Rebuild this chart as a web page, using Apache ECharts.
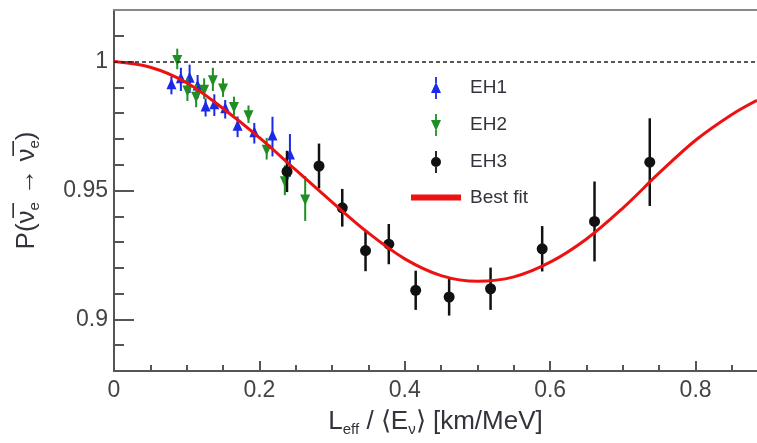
<!DOCTYPE html>
<html>
<head>
<meta charset="utf-8">
<script src="https://cdn.jsdelivr.net/npm/echarts@6/dist/echarts.min.js"></script>
<style>
  html, body { margin: 0; padding: 0; background: #fff; }
  #chart { width: 757px; height: 443px; }
</style>
</head>
<body>
<div id="chart"></div>
<script>
// axis ranges and ticks
const xMax = 0.8845
const yMin = 0.88
const yMax = 1.02
const xMajor = [0, 0.2, 0.4, 0.6, 0.8]
const xMinor = [0.05, 0.1, 0.15, 0.25, 0.3, 0.35, 0.45, 0.5, 0.55, 0.65, 0.7, 0.75, 0.85]
const yMajor = [0.9, 0.95, 1]
const yMinor = [0.89, 0.91, 0.92, 0.93, 0.94, 0.96, 0.97, 0.98, 0.99, 1.01]

// [L/E, P, error]
const eh1 = [
    [0.079, 0.9908, 0.0035], [0.092, 0.9931, 0.0045], [0.104, 0.9933, 0.0055],
    [0.115, 0.9903, 0.0045], [0.126, 0.9822, 0.0035], [0.138, 0.9831, 0.0042],
    [0.153, 0.9815, 0.0036], [0.170, 0.9747, 0.0040], [0.193, 0.9722, 0.0040],
    [0.218, 0.9709, 0.0077], [0.242, 0.9636, 0.0083]
]
const eh2 = [
    [0.087, 1.0010, 0.0040], [0.101, 0.9892, 0.0045], [0.113, 0.9867, 0.0044],
    [0.124, 0.9895, 0.0040], [0.136, 0.9931, 0.0045], [0.150, 0.9899, 0.0036],
    [0.165, 0.9828, 0.0036], [0.185, 0.9796, 0.0034], [0.210, 0.9662, 0.0042],
    [0.235, 0.9540, 0.0058], [0.263, 0.9469, 0.0087]
]
const eh3 = [
    [0.238, 0.9574, 0.0080], [0.282, 0.9595, 0.0087], [0.314, 0.9433, 0.0073],
    [0.346, 0.9267, 0.0080], [0.378, 0.9292, 0.0078], [0.415, 0.9113, 0.0076],
    [0.461, 0.9087, 0.0072], [0.518, 0.9119, 0.0082], [0.589, 0.9274, 0.0088],
    [0.661, 0.9380, 0.0155], [0.737, 0.9610, 0.0170]
]
// best fit curve
const fitX = [0, 0.05, 0.1, 0.15, 0.2, 0.25, 0.3, 0.35, 0.4, 0.45, 0.5, 0.55, 0.6, 0.65, 0.7, 0.75, 0.8, 0.85, 0.8845]
const fitY = [1.0, 0.9978, 0.9918, 0.9818, 0.9705, 0.958, 0.9455, 0.9335, 0.9235, 0.917, 0.9148, 0.9165, 0.9222, 0.9312, 0.9432, 0.9568, 0.9695, 0.9795, 0.985]

const font = 'Liberation Sans, Arial, sans-serif'
const axisColor = '#555'
const textColor = '#33333d'

// 误差棒 + 标记
function errorBar(shape){
    return function(params, api){
        let x = api.value(0), y = api.value(1), e = api.value(2)
        let top = api.coord([x, y + e])
        let bot = api.coord([x, y - e])
        let c = api.coord([x, y])
        let color = api.visual('color')
        let children = [{
            type: 'line',
            shape: { x1: c[0], y1: top[1], x2: c[0], y2: bot[1] },
            style: { stroke: color, lineWidth: shape === 'circle' ? 2.5 : 2 }
        }]
        if(shape === 'up')
            children.push({ type: 'polygon', shape: { points: [[c[0], c[1] - 7], [c[0] + 5, c[1] + 4], [c[0] - 5, c[1] + 4]] }, style: { fill: color } })
        else if(shape === 'down')
            children.push({ type: 'polygon', shape: { points: [[c[0], c[1] + 7], [c[0] + 5, c[1] - 4], [c[0] - 5, c[1] - 4]] }, style: { fill: color } })
        else
            children.push({ type: 'circle', shape: { cx: c[0], cy: c[1], r: 5.5 }, style: { fill: color } })
        return { type: 'group', children: children }
    }
}

const sub = { fontSize: 15, fontFamily: font, color: textColor, verticalAlign: 'bottom', lineHeight: 30, padding: [8, 0, 0, 0] }

const gridRect = { left: 114, right: 0, top: 10, bottom: 72, outerBoundsMode: 'none' }

// legend icons: bar pieces above/below the marker so nothing overlaps
const barPieces = 'M4.1 0h1.8v6h-1.8z M4.1 16h1.8v6h-1.8z '

let option = {
    animation: false,
    backgroundColor: '#fff',
    grid: [Object.assign({}, gridRect), Object.assign({}, gridRect)],
    legend: {
        orient: 'vertical',
        left: 406,
        top: 72,
        itemWidth: 50,
        itemHeight: 22,
        itemGap: 15,
        textStyle: { fontSize: 19, fontFamily: font, color: textColor, padding: [0, 0, 0, 4] },
        data: [
            { name: 'EH1', icon: 'path://' + barPieces + 'M0 16 L5 5 L10 16z' },
            { name: 'EH2', icon: 'path://' + barPieces + 'M0 6 L10 6 L5 17z' },
            { name: 'EH3', icon: 'path://' + barPieces + 'M0 11 a5 5 0 1 1 10 0 a5 5 0 1 1 -10 0z' },
            { name: 'Best fit', icon: 'path://M0 0h50v6h-50z' }
        ]
    },
    xAxis: [
        {
            gridIndex: 0, type: 'value', min: 0, max: xMax, position: 'bottom',
            name: 'L{sub|eff} / ⟨E{sub|ν}⟩ [km/MeV]',
            nameLocation: 'middle', nameGap: 28,
            nameTextStyle: { fontSize: 26, fontFamily: font, color: textColor, lineHeight: 30, rich: { sub: sub } },
            axisLine: { show: true, lineStyle: { color: axisColor, width: 2 } },
            axisTick: { show: true, inside: true, length: 10, customValues: xMajor, lineStyle: { color: axisColor, width: 2 } },
            axisLabel: { customValues: xMajor, fontSize: 23, fontFamily: font, color: '#444', margin: 8 },
            splitLine: { show: false }
        },
        {
            gridIndex: 1, type: 'value', min: 0, max: xMax, position: 'bottom',
            axisLine: { show: false },
            axisTick: { show: true, inside: true, length: 6, customValues: xMinor, lineStyle: { color: axisColor, width: 2 } },
            axisLabel: { show: false },
            splitLine: { show: false }
        },
        {
            gridIndex: 1, type: 'value', min: 0, max: xMax, position: 'top',
            axisLine: { show: true, lineStyle: { color: '#888', width: 2 } },
            axisTick: { show: false },
            axisLabel: { show: false },
            splitLine: { show: false }
        }
    ],
    yAxis: [
        {
            gridIndex: 0, type: 'value', min: yMin, max: yMax, position: 'left',
            name: 'P(ν̅{sub|e} → ν̅{sub|e})',
            nameLocation: 'middle', nameRotate: 90, nameGap: 72,
            nameTextStyle: { fontSize: 26, fontFamily: font, color: textColor, lineHeight: 30, rich: { sub: sub } },
            axisLine: { show: true, lineStyle: { color: axisColor, width: 2 } },
            axisTick: { show: true, inside: true, length: 20, customValues: yMajor, lineStyle: { color: axisColor, width: 2 } },
            axisLabel: { customValues: yMajor, fontSize: 23, fontFamily: font, color: '#444', margin: 6 },
            splitLine: { show: false }
        },
        {
            gridIndex: 1, type: 'value', min: yMin, max: yMax, position: 'left',
            axisLine: { show: false },
            axisTick: { show: true, inside: true, length: 10, customValues: yMinor, lineStyle: { color: axisColor, width: 2 } },
            axisLabel: { show: false },
            splitLine: { show: false }
        }
    ],
    series: [
        {
            name: 'EH1', type: 'custom', xAxisIndex: 0, yAxisIndex: 0,
            itemStyle: { color: '#1a2ae6' }, renderItem: errorBar('up'),
            encode: { x: 0, y: 1 }, data: eh1, z: 3
        },
        {
            name: 'EH2', type: 'custom', xAxisIndex: 0, yAxisIndex: 0,
            itemStyle: { color: '#1f8f24' }, renderItem: errorBar('down'),
            encode: { x: 0, y: 1 }, data: eh2, z: 3
        },
        {
            name: 'EH3', type: 'custom', xAxisIndex: 0, yAxisIndex: 0,
            itemStyle: { color: '#111' }, renderItem: errorBar('circle'),
            encode: { x: 0, y: 1 }, data: eh3, z: 3
        },
        {
            name: 'Best fit', type: 'line', xAxisIndex: 0, yAxisIndex: 0,
            data: fitX.map((x, i) => [x, fitY[i]]),
            smooth: 0.35, showSymbol: false, symbol: 'none',
            itemStyle: { color: '#ee1111' },
            lineStyle: { color: '#ee1111', width: 3 },
            z: 4,
            markLine: {
                silent: true, symbol: 'none',
                label: { show: false },
                lineStyle: { color: '#222', type: [4, 3], width: 1.5 },
                data: [{ yAxis: 1 }]
            }
        }
    ]
}

let chartDom = echarts.init(document.querySelector('#chart'))
chartDom.setOption(option)
</script>
</body>
</html>
